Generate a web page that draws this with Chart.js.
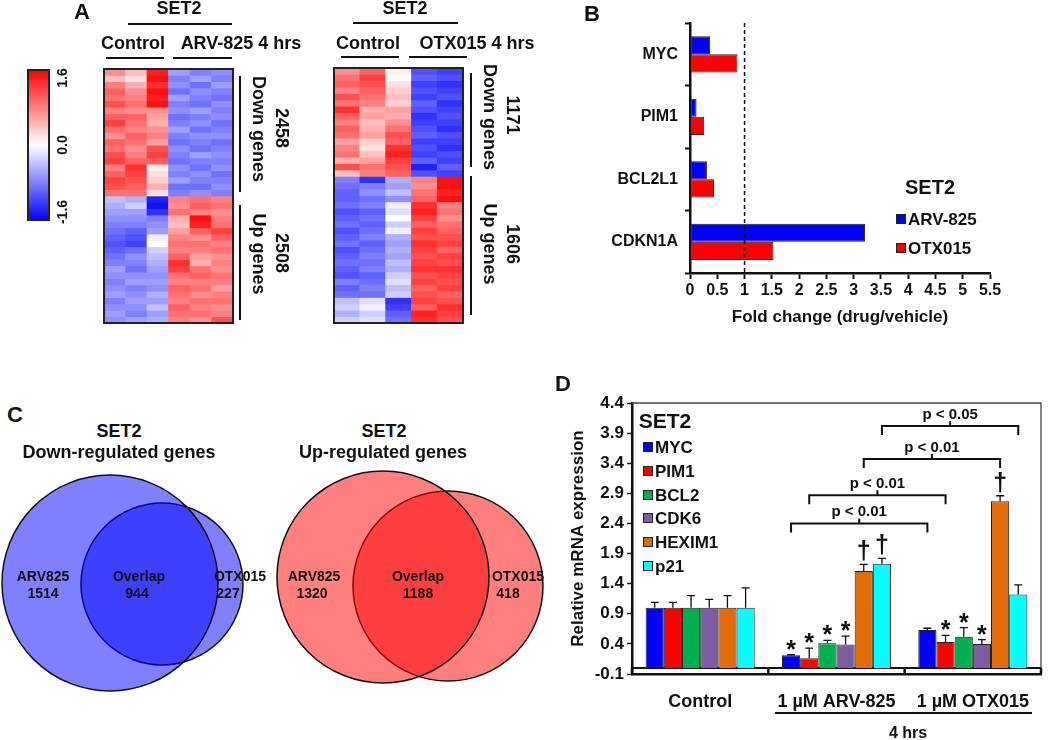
<!DOCTYPE html>
<html><head><meta charset="utf-8">
<script src="https://cdn.jsdelivr.net/npm/chart.js@4.4.0/dist/chart.umd.min.js"></script>
<style>
html,body{margin:0;padding:0;background:#fff;}
#fig{position:relative;width:1050px;height:740px;overflow:hidden;font-family:"Liberation Sans",Arial,sans-serif;font-weight:bold;color:#111;}
.t{position:absolute;white-space:nowrap;transform:translate(-50%,-50%);line-height:1;}
.t.r90{transform:translate(-50%,-50%) rotate(90deg);}
.t.rm90{transform:translate(-50%,-50%) rotate(-90deg);}
.l{position:absolute;white-space:nowrap;line-height:1;transform:translateY(-50%);}
.hl{position:absolute;background:#111;}
.sq{position:absolute;border:1px solid #222;box-sizing:border-box;}
canvas{position:absolute;display:block;}
.box{position:absolute;border:2px solid #222;box-sizing:border-box;pointer-events:none;}
</style></head>
<body><div id="fig">
<canvas id="cbar" width="21" height="150" style="left:28px;top:70px"></canvas>
<canvas id="heatL" width="129" height="254" style="left:104px;top:69px"></canvas>
<canvas id="heatR" width="129" height="255" style="left:334px;top:68px"></canvas>
<canvas id="chartB" width="420" height="320" style="left:600px;top:15px"></canvas>
<canvas id="venn" width="560" height="240" style="left:0px;top:460px"></canvas>
<canvas id="chartD" width="486" height="340" style="left:564px;top:380px"></canvas>
<div class="box" style="left:27px;top:69px;width:23px;height:152px"></div>
<div class="box" style="left:103px;top:68px;width:131px;height:256px"></div>
<div class="box" style="left:333px;top:67px;width:131px;height:257px"></div>
</div>
<script>
// ================= DATA =================
// Panel A heatmaps (z-scores, rows top->bottom, columns left->right)
const heatLeftCols = ['Control 1','Control 2','Control 3','ARV-825 1','ARV-825 2','ARV-825 3'];
const heatRightCols = ['Control 1','Control 2','Control 3','OTX015 1','OTX015 2'];
const heatLeftDown = [
 [0.7,0.4,1.4,-0.6,-0.8,-0.7],[0.4,0.2,1.5,-0.8,-0.6,-0.8],[0.8,0.5,1.3,-0.7,-0.9,-0.6],
 [1.0,0.7,1.5,-0.9,-0.7,-0.8],[0.9,0.8,1.4,-0.6,-0.8,-0.9],[1.1,0.9,1.5,-0.8,-0.9,-0.7],
 [0.8,0.7,0.7,-0.7,-0.6,-0.8],[1.0,1.0,0.6,-0.9,-0.8,-0.7],[1.2,0.9,0.5,-0.8,-0.7,-0.9],
 [0.9,0.8,0.7,-0.6,-0.9,-0.8],[0.7,1.0,0.8,-0.8,-0.7,-0.7],[1.0,0.9,0.6,-0.9,-0.8,-0.9],
 [0.9,0.7,1.1,-0.7,-0.9,-0.8],[1.1,0.8,1.2,-0.8,-0.6,-0.7],[1.2,1.0,1.0,-0.9,-0.8,-0.8],
 [0.8,1.3,0.1,-0.7,-0.9,-0.7],[1.0,1.2,0.2,-0.8,-0.7,-0.9],[1.2,1.1,0.3,-0.6,-0.8,-0.8],
 [1.1,1.0,0.5,-0.9,-0.9,-0.7],[0.9,0.9,0.2,-0.8,-0.7,-0.8]
];
const heatLeftUp = [
 [-0.4,-0.5,-1.4,0.8,0.9,0.8],[-0.5,-0.3,-1.5,0.7,1.0,0.9],[-0.6,-0.6,-1.3,0.9,0.8,0.7],
 [-0.7,-0.7,-0.8,0.5,1.5,0.8],[-0.8,-0.8,-0.7,0.4,1.4,0.9],[-0.9,-1.0,-0.6,0.6,1.0,1.2],
 [-1.0,-1.1,-0.1,0.8,0.7,1.0],[-1.1,-1.2,0.0,0.9,0.9,0.8],[-1.0,-0.9,-0.3,0.8,0.8,0.9],
 [-0.9,-0.7,-0.4,1.0,0.6,0.7],[-0.8,-0.8,-0.5,1.3,0.5,0.8],[-0.6,-0.9,-0.6,1.2,0.9,0.7],
 [-0.7,-0.7,-0.7,0.9,1.0,0.9],[-0.8,-0.6,-0.6,0.8,0.8,0.8],[-0.7,-0.8,-0.7,1.0,0.9,0.6],
 [-0.6,-0.7,-0.5,0.9,0.7,0.8],[-0.8,-0.6,-0.6,0.8,0.9,0.9],[-0.7,-0.7,-0.4,1.0,0.8,0.7],
 [-0.6,-0.8,-0.6,0.9,0.9,0.8],[-0.7,-0.6,-0.5,0.8,0.7,1.1]
];
const heatRightDown = [
 [0.7,1.0,0.1,-1.1,-1.2],[0.9,1.2,0.0,-1.0,-1.1],[1.0,1.1,0.2,-1.2,-1.3],[0.8,1.0,0.3,-1.1,-1.2],
 [1.1,0.9,0.4,-1.2,-1.1],[0.9,0.8,0.3,-1.0,-1.3],[1.3,0.5,0.6,-1.1,-1.2],[1.0,0.6,0.5,-1.3,-1.1],
 [0.8,0.4,0.7,-1.2,-1.2],[1.0,0.5,0.9,-1.1,-1.3],[0.9,0.6,1.1,-1.0,-1.1],[0.6,0.3,1.0,-1.2,-1.2],
 [0.8,0.2,1.3,-1.1,-1.3],[0.9,0.4,1.4,-1.2,-1.1],[0.5,0.6,1.2,-1.0,-1.2],[1.1,0.9,1.1,-1.4,-1.0],
 [0.4,0.8,1.0,-1.1,-1.2]
];
const heatRightUp = [
 [-0.8,-1.3,-0.5,0.8,1.5],[-0.9,-0.8,-0.6,0.7,1.5],[-1.0,-0.7,-0.4,0.9,1.4],[-1.0,-0.9,-0.7,1.0,1.5],
 [-0.9,-0.8,-0.1,1.3,0.8],[-1.1,-1.0,-0.2,1.4,0.9],[-1.0,-0.9,0.0,1.2,0.7],[-0.9,-1.0,-0.3,1.0,0.9],
 [-1.1,-0.9,-0.1,1.2,1.0],[-1.0,-0.8,-0.5,1.1,1.1],[-0.9,-1.0,-0.6,1.3,1.2],[-1.1,-0.9,-0.5,1.2,1.0],
 [-1.0,-0.8,-0.6,1.1,1.2],[-0.9,-0.9,-0.4,1.2,1.1],[-1.0,-0.8,-0.5,1.3,1.3],[-1.1,-1.0,-0.3,1.1,1.2],
 [-0.8,-0.9,-0.2,1.2,1.1],[-1.0,-0.8,-0.4,1.0,1.2],[-0.9,-0.9,-0.3,1.1,1.0],[-0.4,-0.2,-1.3,1.2,1.1],
 [-0.3,-0.1,-1.2,1.0,1.3],[-0.5,-0.3,-1.0,1.4,1.2],[-0.3,-0.2,-0.9,1.3,1.1]
];
const heatLeftCounts = [2458, 2508];
const heatRightCounts = [1171, 1606];
const colorbarRange = [-1.6, 1.6];
const colorbarTicks = [1.6, 0.0, -1.6];

// Panel B
const bGenes = ['MYC','PIM1','BCL2L1','CDKN1A'];
const bARV825 = [0.37, 0.12, 0.31, 3.21];
const bOTX015 = [0.87, 0.26, 0.44, 1.53];
const bTicks = [0,0.5,1,1.5,2,2.5,3,3.5,4,4.5,5,5.5];
const bRefLine = 1;

// Panel C
const vennDownCounts = [1514, 944, 227];   // ARV825 only, overlap, OTX015 only
const vennUpCounts = [1320, 1188, 418];

// Panel D
const dGroups = ['Control','1 µM ARV-825','1 µM OTX015'];
const dGenes = ['MYC','PIM1','BCL2','CDK6','HEXIM1','p21'];
const dMYC = [1.00, 0.21, 0.63];     const dMYCErr = [0.09, 0.01, 0.03];
const dPIM1 = [1.00, 0.16, 0.43];    const dPIM1Err = [0.09, 0.17, 0.11];
const dBCL2 = [1.00, 0.41, 0.52];    const dBCL2Err = [0.20, 0.05, 0.15];
const dCDK6 = [1.00, 0.39, 0.40];    const dCDK6Err = [0.14, 0.14, 0.07];
const dHEXIM1 = [1.00, 1.61, 2.77];  const dHEXIM1Err = [0.20, 0.11, 0.09];
const dP21 = [1.00, 1.73, 1.22];     const dP21Err = [0.33, 0.09, 0.16];
const dMYCMark = ['', '*', ''];
const dPIM1Mark = ['', '*', '*'];
const dBCL2Mark = ['', '*', '*'];
const dCDK6Mark = ['', '*', '*'];
const dHEXIM1Mark = ['', '†', '†'];
const dP21Mark = ['', '†', ''];
const dTicks = [-0.1, 0.4, 0.9, 1.4, 1.9, 2.4, 2.9, 3.4, 3.9, 4.4];
const dBracketLabels = ['p < 0.01','p < 0.01','p < 0.01','p < 0.05'];
const dBracketGene = [0, 1, 4, 5];          // compares gene in ARV-825 group vs OTX015 group
const dBracketLevel = [2.40, 2.87, 3.47, 4.02];

// ================= STYLE / SETUP =================
const FONT = '"Liberation Sans", Arial, sans-serif';
Chart.defaults.font.family = FONT;
Chart.defaults.font.weight = 'bold';
Chart.defaults.color = '#111';
Chart.defaults.animation = false;
Chart.defaults.plugins.legend.display = false;
Chart.defaults.plugins.tooltip.enabled = false;

const fig = document.getElementById('fig');
function txt(s, x, y, size, cls) {
  const d = document.createElement('div');
  d.className = 't' + (cls ? ' ' + cls : '');
  d.style.left = x + 'px'; d.style.top = y + 'px'; d.style.fontSize = size + 'px';
  d.textContent = s; fig.appendChild(d); return d;
}
function ltxt(s, x, y, size) {
  const d = document.createElement('div');
  d.className = 'l'; d.style.left = x + 'px'; d.style.top = y + 'px'; d.style.fontSize = size + 'px';
  d.textContent = s; fig.appendChild(d); return d;
}
function hline(x1, x2, y, w) {
  const d = document.createElement('div'); d.className = 'hl';
  d.style.left = x1 + 'px'; d.style.width = (x2 - x1) + 'px'; d.style.top = (y - w / 2) + 'px'; d.style.height = w + 'px';
  fig.appendChild(d);
}
function vline(x, y1, y2, w) {
  const d = document.createElement('div'); d.className = 'hl';
  d.style.left = (x - w / 2) + 'px'; d.style.width = w + 'px'; d.style.top = y1 + 'px'; d.style.height = (y2 - y1) + 'px';
  fig.appendChild(d);
}
function square(x, y, w, h, color) {
  const d = document.createElement('div'); d.className = 'sq';
  d.style.left = x + 'px'; d.style.top = y + 'px'; d.style.width = w + 'px'; d.style.height = h + 'px';
  d.style.background = color; fig.appendChild(d);
}

// ================= PANEL A =================
function heatColor(v) {
  const t = Math.max(-1, Math.min(1, v / 1.6));
  const c = Math.round(255 * (1 - Math.abs(t)));
  return t >= 0 ? `rgb(255,${c},${c})` : `rgb(${c},${c},255)`;
}
function heatChart(id, cols, down, up) {
  const rows = down.concat(up);
  return new Chart(document.getElementById(id), {
    type: 'bar',
    data: {
      labels: cols,
      datasets: rows.map(r => ({
        data: r.map(() => 1),
        backgroundColor: r.map(heatColor),
        borderWidth: 0, barPercentage: 1, categoryPercentage: 1
      }))
    },
    options: {
      responsive: false, layout: { padding: 0, autoPadding: false },
      scales: {
        x: { display: false, stacked: true },
        y: { display: false, stacked: true, reverse: true, min: 0, max: rows.length }
      }
    }
  });
}
heatChart('heatL', heatLeftCols, heatLeftDown, heatLeftUp);
heatChart('heatR', heatRightCols, heatRightDown, heatRightUp);

new Chart(document.getElementById('cbar'), {
  type: 'bar',
  data: { labels: ['z'], datasets: [{
    data: [[colorbarRange[0], colorbarRange[1]]],
    barPercentage: 1, categoryPercentage: 1, borderWidth: 0,
    backgroundColor: (ctx) => {
      const ca = ctx.chart.chartArea; if (!ca) return 'white';
      const g = ctx.chart.ctx.createLinearGradient(0, ca.top, 0, ca.bottom);
      g.addColorStop(0, 'rgb(255,0,0)'); g.addColorStop(0.5, 'rgb(255,255,255)'); g.addColorStop(1, 'rgb(0,0,255)');
      return g;
    }
  }] },
  options: { responsive: false, layout: { padding: 0, autoPadding: false },
    scales: { x: { display: false }, y: { display: false, min: colorbarRange[0], max: colorbarRange[1] } } }
});
// colour bar labels
const cbTop = 70, cbH = 150;
colorbarTicks.forEach(v => {
  const frac = (colorbarRange[1] - v) / (colorbarRange[1] - colorbarRange[0]);
  const y = cbTop + frac * cbH + (v === colorbarTicks[0] ? 8 : v === colorbarTicks[2] ? -8 : 0);
  txt(v.toFixed(1), 62, y, 14, 'rm90');
});

txt('A', 82, 12, 22);
txt('SET2', 179, 8, 18); hline(128, 232, 24, 2.5);
txt('Control', 133, 43, 18); txt('ARV-825 4 hrs', 241, 43, 18);
hline(106, 164, 58, 2.5); hline(173, 232, 58, 2.5);
txt('SET2', 405, 8, 18); hline(353, 458, 23, 2.5);
txt('Control', 368, 43, 18); txt('OTX015 4 hrs', 477, 43, 18);
hline(341, 399, 57, 2.5); hline(409, 467, 57, 2.5);
vline(240, 76, 192, 2.5); vline(240, 205, 320, 2.5);
vline(471, 73, 167, 2.5); vline(471, 176, 315, 2.5);
txt('Down genes', 259, 129, 18, 'r90'); txt(String(heatLeftCounts[0]), 282, 128, 18, 'r90');
txt('Up genes', 259, 254, 18, 'r90'); txt(String(heatLeftCounts[1]), 282, 253, 18, 'r90');
txt('Down genes', 490, 117, 18, 'r90'); txt(String(heatRightCounts[0]), 513, 115, 18, 'r90');
txt('Up genes', 490, 244, 18, 'r90'); txt(String(heatRightCounts[1]), 513, 244, 18, 'r90');

// ================= PANEL B =================
const refLinePlugin = {
  id: 'refLine',
  afterDatasetsDraw(chart) {
    const { ctx, chartArea, scales } = chart;
    const x = scales.x.getPixelForValue(bRefLine);
    ctx.save(); ctx.strokeStyle = '#111'; ctx.lineWidth = 1.5; ctx.setLineDash([4, 3]);
    ctx.beginPath(); ctx.moveTo(x, chartArea.top); ctx.lineTo(x, chartArea.bottom); ctx.stroke(); ctx.restore();
  }
};
new Chart(document.getElementById('chartB'), {
  type: 'bar',
  data: { labels: bGenes, datasets: [
    { label: 'ARV-825', data: bARV825, backgroundColor: '#0000ff', borderColor: '#222', borderWidth: 1, borderSkipped: false },
    { label: 'OTX015', data: bOTX015, backgroundColor: '#ff0000', borderColor: '#222', borderWidth: 1, borderSkipped: false }
  ] },
  options: {
    responsive: false, indexAxis: 'y',
    layout: { padding: { top: 8, right: 30, left: 0, bottom: 0 }, autoPadding: false },
    datasets: { bar: { categoryPercentage: 0.58, barPercentage: 1 } },
    scales: {
      y: { afterFit: s => { s.width = 90; s.paddingTop = 0; s.paddingBottom = 0; },
        border: { color: '#111', width: 2.5 },
        grid: { drawOnChartArea: false, tickLength: 5, tickColor: '#111', tickWidth: 2 },
        ticks: { font: { size: 16, weight: 'bold' }, color: '#111', padding: 7 } },
      x: { type: 'linear', min: bTicks[0], max: bTicks[bTicks.length - 1],
        afterFit: s => { s.height = 62; },
        afterBuildTicks: s => { s.ticks = bTicks.map(v => ({ value: v })); },
        border: { color: '#111', width: 2.5 },
        grid: { drawOnChartArea: false, tickLength: 6, tickColor: '#111', tickWidth: 2 },
        ticks: { font: { size: 16, weight: 'bold' }, color: '#111', padding: 2, maxRotation: 0, callback: v => String(v) },
        title: { display: true, text: 'Fold change (drug/vehicle)', font: { size: 17, weight: 'bold' }, color: '#111', padding: { top: 0, bottom: 7 } } }
    }
  },
  plugins: [refLinePlugin]
});
txt('B', 592, 14, 22);
txt('SET2', 930, 187, 20);
square(896, 214, 10, 10, '#0000ff'); ltxt('ARV-825', 908, 219, 17);
square(896, 243, 10, 10, '#ff0000'); ltxt('OTX015', 908, 248, 17);

// ================= PANEL C =================
// circle geometry in page pixels (x, y, radius)
const vennGeom = [
  { x: 110, y: 583, r: 108, c: 'rgba(0,0,255,0.5)' },
  { x: 162, y: 584, r: 81, c: 'rgba(0,0,255,0.5)' },
  { x: 383, y: 577, r: 106, c: 'rgba(255,0,0,0.5)' },
  { x: 448, y: 586, r: 95, c: 'rgba(255,0,0,0.5)' }
];
new Chart(document.getElementById('venn'), {
  type: 'bubble',
  data: { datasets: vennGeom.map(g => ({
    data: [{ x: g.x, y: g.y, r: g.r }], backgroundColor: g.c, borderColor: '#111', borderWidth: 1.5, clip: false
  })) },
  options: { responsive: false, layout: { padding: 0, autoPadding: false },
    scales: { x: { type: 'linear', display: false, min: 0, max: 560 },
              y: { type: 'linear', display: false, min: 460, max: 700, reverse: true } } }
});
txt('C', 15, 415, 22);
txt('SET2', 119, 431, 18); txt('Down-regulated genes', 119, 452, 18);
txt('SET2', 384, 431, 18); txt('Up-regulated genes', 383, 452, 18);
txt('ARV825', 43, 576, 14); txt(String(vennDownCounts[0]), 43, 593, 14);
txt('Overlap', 139, 576, 14); txt(String(vennDownCounts[1]), 137, 593, 14);
txt('OTX015', 240, 576, 14); txt(String(vennDownCounts[2]), 228, 593, 14);
txt('ARV825', 314, 576, 14); txt(String(vennUpCounts[0]), 312, 593, 14);
txt('Overlap', 418, 576, 14); txt(String(vennUpCounts[1]), 418, 593, 14);
txt('OTX015', 518, 576, 14); txt(String(vennUpCounts[2]), 508, 593, 14);

// ================= PANEL D =================
const dColors = ['#0000ff', '#ff0000', '#00b050', '#7b5ea0', '#e36c0a', '#00ffff'];
const dValues = [dMYC, dPIM1, dBCL2, dCDK6, dHEXIM1, dP21];
const dErrors = [dMYCErr, dPIM1Err, dBCL2Err, dCDK6Err, dHEXIM1Err, dP21Err];
const dMarks = [dMYCMark, dPIM1Mark, dBCL2Mark, dCDK6Mark, dHEXIM1Mark, dP21Mark];

const frameD = {
  id: 'frameD',
  beforeDatasetsDraw(chart) {
    const { ctx, chartArea: ca, scales: { x, y } } = chart;
    ctx.save();
    ctx.strokeStyle = '#444'; ctx.lineWidth = 1.3;
    ctx.beginPath(); ctx.moveTo(ca.left, ca.top); ctx.lineTo(ca.right, ca.top); ctx.lineTo(ca.right, ca.bottom); ctx.stroke();
    const y0 = y.getPixelForValue(0), yb = y.getPixelForValue(dTicks[0]);
    ctx.strokeStyle = '#111'; ctx.lineWidth = 2;
    ctx.beginPath(); ctx.moveTo(ca.left, y0); ctx.lineTo(ca.right, y0); ctx.stroke();
    const n = dGroups.length;
    const bounds = [ca.left];
    for (let i = 0; i < n - 1; i++) bounds.push((x.getPixelForValue(i) + x.getPixelForValue(i + 1)) / 2);
    bounds.push(ca.right);
    ctx.lineWidth = 2.5;
    bounds.forEach(b => { ctx.beginPath(); ctx.moveTo(b, y0); ctx.lineTo(b, yb); ctx.stroke(); });
    ctx.restore();
  },
  afterDatasetsDraw(chart) {
    const { ctx, scales: { y } } = chart;
    ctx.save();
    ctx.strokeStyle = '#111'; ctx.fillStyle = '#111'; ctx.lineWidth = 1.3;
    chart.data.datasets.forEach((ds, di) => {
      const meta = chart.getDatasetMeta(di);
      meta.data.forEach((bar, i) => {
        const v = dValues[di][i], e = dErrors[di][i];
        const yv = y.getPixelForValue(v), ye = y.getPixelForValue(v + e);
        ctx.beginPath(); ctx.moveTo(bar.x, yv); ctx.lineTo(bar.x, ye);
        ctx.moveTo(bar.x - 4, ye); ctx.lineTo(bar.x + 4, ye); ctx.stroke();
        const m = dMarks[di][i];
        if (m) {
          ctx.textAlign = 'center'; ctx.textBaseline = 'alphabetic';
          if (m === '*') { ctx.font = 'bold 25px ' + FONT; ctx.fillText(m, bar.x, ye + 3); }
          else { ctx.font = 'bold 25px ' + FONT; ctx.fillText(m, bar.x, ye - 5); }
        }
      });
    });
    // significance brackets between ARV-825 (group 1) and OTX015 (group 2)
    dBracketLabels.forEach((lab, k) => {
      const g = dBracketGene[k];
      const meta = chart.getDatasetMeta(g);
      const x1 = meta.data[1].x, x2 = meta.data[2].x;
      const yb = y.getPixelForValue(dBracketLevel[k]);
      const xm = (x1 + x2) / 2;
      ctx.lineWidth = 2;
      ctx.beginPath();
      ctx.moveTo(x1, yb + 9); ctx.lineTo(x1, yb); ctx.lineTo(x2, yb); ctx.lineTo(x2, yb + 9);
      ctx.moveTo(xm, yb); ctx.lineTo(xm, yb - 5);
      ctx.stroke();
      ctx.font = 'bold 15px ' + FONT; ctx.textAlign = 'center'; ctx.textBaseline = 'alphabetic';
      ctx.fillText(lab, xm, yb - 7);
    });
    ctx.restore();
  }
};

new Chart(document.getElementById('chartD'), {
  type: 'bar',
  data: { labels: dGroups, datasets: dGenes.map((g, i) => ({
    label: g, data: dValues[i], backgroundColor: dColors[i], borderColor: '#222', borderWidth: 1
  })) },
  options: {
    responsive: false,
    datasets: { bar: { categoryPercentage: 0.8, barPercentage: 1 } },
    layout: { padding: { top: 23, right: 9, left: 0, bottom: 0 }, autoPadding: false },
    scales: {
      x: { afterFit: s => { s.height = 46; },
        border: { display: true, color: '#111', width: 2.5 },
        grid: { display: false },
        ticks: { font: { size: 18, weight: 'bold' }, color: '#111', padding: 9, maxRotation: 0 } },
      y: { min: dTicks[0], max: dTicks[dTicks.length - 1],
        afterFit: s => { s.width = 68; s.paddingTop = 0; s.paddingBottom = 0; },
        afterBuildTicks: s => { s.ticks = dTicks.map(v => ({ value: v })); },
        border: { color: '#111', width: 2.5 },
        grid: { drawOnChartArea: false, tickLength: 5, tickColor: '#111', tickWidth: 1.5 },
        ticks: { font: { size: 17, weight: 'bold' }, color: '#111', padding: 3, callback: v => Number(v).toFixed(1) },
        title: { display: true, text: 'Relative mRNA expression', font: { size: 17, weight: 'bold' }, color: '#111', padding: { top: 4, bottom: 0 } } }
    }
  },
  plugins: [frameD]
});
txt('D', 563, 384, 22);
txt('SET2', 665, 420, 21);
dGenes.forEach((g, i) => {
  const yc = 447 + i * 23.8;
  square(643, yc - 5, 10, 10, dColors[i]);
  ltxt(g, 655, yc, 17);
});
hline(775, 1032, 713, 1.5);
txt('4 hrs', 908, 733, 16);
</script>
</body></html>
